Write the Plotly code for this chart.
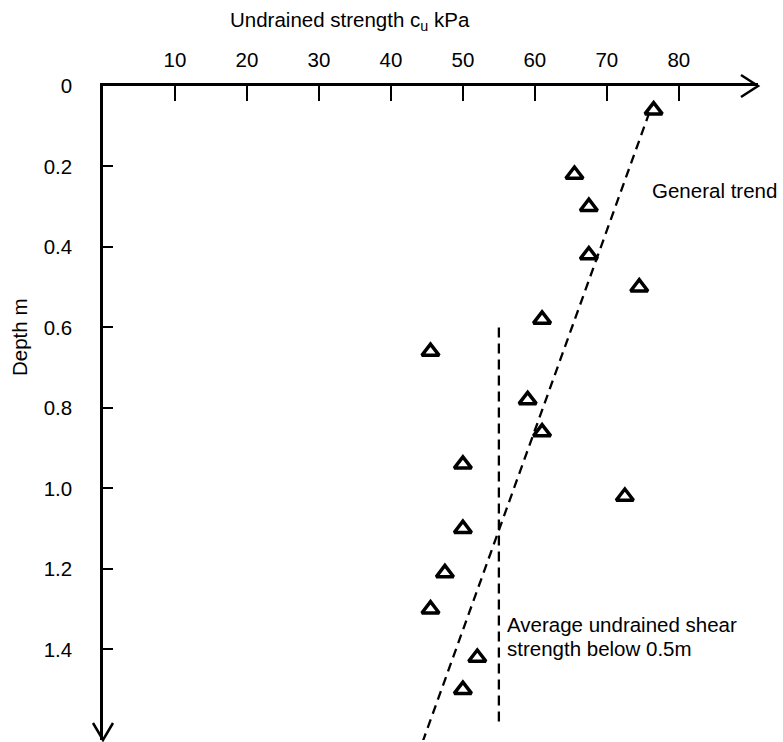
import plotly.graph_objects as go

# Vane / triaxial results: undrained strength (kPa) against depth (m)
cu_kpa = [76.5, 65.5, 67.5, 67.5, 74.5, 61.0, 45.5, 59.0, 61.0, 50.0, 72.5, 50.0, 47.5, 45.5, 52.0, 50.0]
depth_m = [0.06, 0.22, 0.30, 0.42, 0.50, 0.58, 0.66, 0.78, 0.86, 0.94, 1.02, 1.10, 1.21, 1.30, 1.42, 1.50]

# Hand-fitted general trend line (end points)
trend_cu = [75.9, 44.4]
trend_depth = [0.066, 1.63]

# Average undrained shear strength below 0.5 m
avg_cu = [55.0, 55.0]
avg_depth = [0.60, 1.59]

x_ticks = [10, 20, 30, 40, 50, 60, 70, 80]
y_ticks = [0.0, 0.2, 0.4, 0.6, 0.8, 1.0, 1.2, 1.4]
y_ticktext = ["0", "0.2", "0.4", "0.6", "0.8", "1.0", "1.2", "1.4"]

W, H = 783, 742
L, R, T, B = 103, 25, 86, 2
X_RANGE = [0, 91]
Y_RANGE = [1.625, 0]
FONT = "Liberation Sans, Arial, sans-serif"
FS = 20.5

plot_w = W - L - R
plot_h = H - T - B


def px_x(px):
    return (px - L) / plot_w


def px_y(py):
    return 1 - (py - T) / plot_h


fig = go.Figure()

fig.add_trace(go.Scatter(
    x=trend_cu, y=trend_depth, mode="lines",
    line=dict(color="black", width=2.3, dash="9px,6px"), hoverinfo="skip"))

fig.add_trace(go.Scatter(
    x=avg_cu, y=avg_depth, mode="lines",
    line=dict(color="black", width=2.3, dash="10px,6px"), hoverinfo="skip"))

fig.add_trace(go.Scatter(
    x=cu_kpa, y=depth_m, mode="markers",
    marker=dict(symbol="triangle-up-open", size=15, color="black",
                line=dict(width=3.5, color="black"))))

fig.update_layout(
    width=W, height=H,
    margin=dict(l=L, r=R, t=T, b=B, pad=0),
    paper_bgcolor="white", plot_bgcolor="white",
    showlegend=False,
    font=dict(family=FONT, size=FS, color="black"),
    xaxis=dict(
        range=X_RANGE, side="top", tickvals=x_ticks,
        ticks="inside", ticklen=15, tickwidth=2, tickcolor="black",
        showline=True, linewidth=2.5, linecolor="black",
        showgrid=False, zeroline=False, ticklabelstandoff=8,
        tickfont=dict(family=FONT, size=FS, color="black")),
    yaxis=dict(
        range=Y_RANGE, tickvals=y_ticks, ticktext=y_ticktext,
        ticks="inside", ticklen=10, tickwidth=2, tickcolor="black",
        showline=True, linewidth=2.5, linecolor="black",
        showgrid=False, zeroline=False, ticklabelstandoff=24,
        tickfont=dict(family=FONT, size=FS, color="black")),
)

# Open arrowheads at the ends of both axes
fig.add_shape(type="path", xref="paper", yref="paper",
              xsizemode="pixel", ysizemode="pixel", xanchor=1, yanchor=1,
              path="M -17,11 L 0,0 L -17,-11",
              line=dict(color="black", width=2.5))
fig.add_shape(type="path", xref="paper", yref="paper",
              xsizemode="pixel", ysizemode="pixel", xanchor=0, yanchor=0,
              path="M -10,17 L 0,0 L 10,17",
              line=dict(color="black", width=2.5))

# Axis titles
fig.add_annotation(text="Undrained strength c<sub>u</sub> kPa", xref="paper", yref="paper",
                   x=px_x(350), y=px_y(21), xanchor="center", yanchor="middle",
                   showarrow=False, font=dict(size=FS))
fig.add_annotation(text="Depth m", xref="paper", yref="paper",
                   x=px_x(19), y=px_y(338), xanchor="center", yanchor="middle",
                   textangle=-90, showarrow=False, font=dict(size=FS))

# Line labels
fig.add_annotation(text="General trend", xref="x", yref="y",
                   x=76.0, y=0.26, xanchor="left", yanchor="middle",
                   showarrow=False, font=dict(size=FS))
fig.add_annotation(text="Average undrained shear", xref="x", yref="y",
                   x=55.8, y=1.337, xanchor="left", yanchor="middle",
                   showarrow=False, font=dict(size=FS))
fig.add_annotation(text="strength below 0.5m", xref="x", yref="y",
                   x=55.8, y=1.398, xanchor="left", yanchor="middle",
                   showarrow=False, font=dict(size=FS))

fig.write_html("out.html")
